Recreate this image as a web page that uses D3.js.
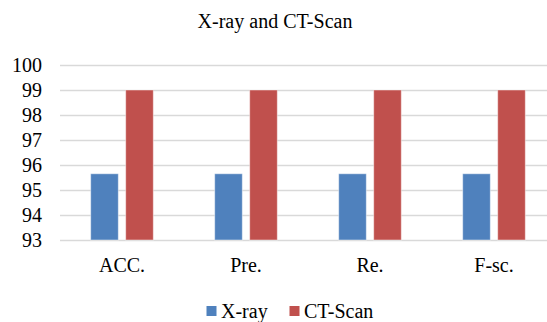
<!DOCTYPE html>
<html>
<head>
<meta charset="utf-8">
<script src="https://cdn.jsdelivr.net/npm/d3@7"></script>
<style>
  html, body { margin: 0; padding: 0; background: #fff; }
  svg { display: block; }
  svg text { font-family: 'Liberation Serif', 'Times New Roman', Tinos, Times, serif !important; }
</style>
</head>
<body>
<svg id="chart" width="547" height="322"></svg>
<script>
// Metrics per imaging modality
const categories = ["ACC.", "Pre.", "Re.", "F-sc."];
const seriesNames = ["X-ray", "CT-Scan"];
const xrayValues = [95.65, 95.65, 95.65, 95.65];
const ctValues = [99, 99, 99, 99];
const yTicks = [93, 94, 95, 96, 97, 98, 99, 100];
const colors = ["#4F81BD", "#C0504D"];

const svg = d3.select("#chart");
const W = 547, H = 322;

const plot = { left: 60, right: 556, top: 65, bottom: 240 };

const x = d3.scaleBand()
  .domain(categories)
  .range([plot.left, plot.right])
  .paddingInner(0.495)
  .paddingOuter(0.2475);

const xs = d3.scaleBand()
  .domain(seriesNames)
  .range([0, x.bandwidth()])
  .paddingInner(0.211);

const y = d3.scaleLinear()
  .domain([93, 100])
  .range([plot.bottom, plot.top]);

// Title
svg.append("text")
  .attr("x", 275)
  .attr("y", 28)
  .attr("text-anchor", "middle")
  .attr("font-size", 20)
  .attr("fill", "#000")
  .text("X-ray and CT-Scan");

// Horizontal gridlines
svg.append("g")
  .selectAll("line")
  .data(yTicks)
  .join("line")
  .attr("x1", plot.left)
  .attr("x2", W)
  .attr("y1", d => Math.round(y(d)) + 0.5)
  .attr("y2", d => Math.round(y(d)) + 0.5)
  .attr("stroke", "#d9d9d9")
  .attr("stroke-width", 1.4);

// Y axis labels
const yAxis = d3.axisLeft(y).tickValues(yTicks).tickSize(0).tickPadding(0).tickFormat(d3.format("d"));
const gy = svg.append("g")
  .attr("transform", `translate(${plot.left - 18},0)`)
  .call(yAxis);
gy.attr("font-family", null);
gy.select(".domain").remove();
gy.selectAll("text")
  .attr("font-size", 20)
  .attr("fill", "#000")
  .attr("dy", "0.34em");

// Bars
const rows = categories.map((c, i) => ({ cat: c, vals: [xrayValues[i], ctValues[i]] }));
const groups = svg.append("g")
  .selectAll("g")
  .data(rows)
  .join("g")
  .attr("transform", d => `translate(${x(d.cat)},0)`);

groups.selectAll("rect")
  .data(d => d.vals.map((v, j) => ({ name: seriesNames[j], v, j })))
  .join("rect")
  .attr("x", d => xs(d.name))
  .attr("width", xs.bandwidth())
  .attr("y", d => y(d.v))
  .attr("height", d => y(93) - y(d.v))
  .attr("fill", d => colors[d.j])
  .attr("stroke", "rgba(255,255,255,0.45)")
  .attr("stroke-width", 1);

// X axis labels
const xAxis = d3.axisBottom(x).tickSize(0).tickPadding(0);
const gx = svg.append("g")
  .attr("transform", `translate(0,${plot.bottom + 18})`)
  .call(xAxis);
gx.attr("font-family", null);
gx.select(".domain").remove();
gx.selectAll("text")
  .attr("font-size", 20)
  .attr("fill", "#000")
  .attr("dy", "0.71em");

// Legend
const legendX = [206.5, 289.5];
const legend = svg.append("g")
  .selectAll("g")
  .data(seriesNames)
  .join("g")
  .attr("transform", (d, i) => `translate(${legendX[i]},0)`);
legend.append("rect")
  .attr("x", 0).attr("y", 306)
  .attr("width", 10).attr("height", 10)
  .attr("fill", (d, i) => colors[i]);
legend.append("text")
  .attr("x", 14.5).attr("y", 318)
  .attr("font-size", 20)
  .attr("fill", "#000")
  .text(d => d);
</script>
</body>
</html>
